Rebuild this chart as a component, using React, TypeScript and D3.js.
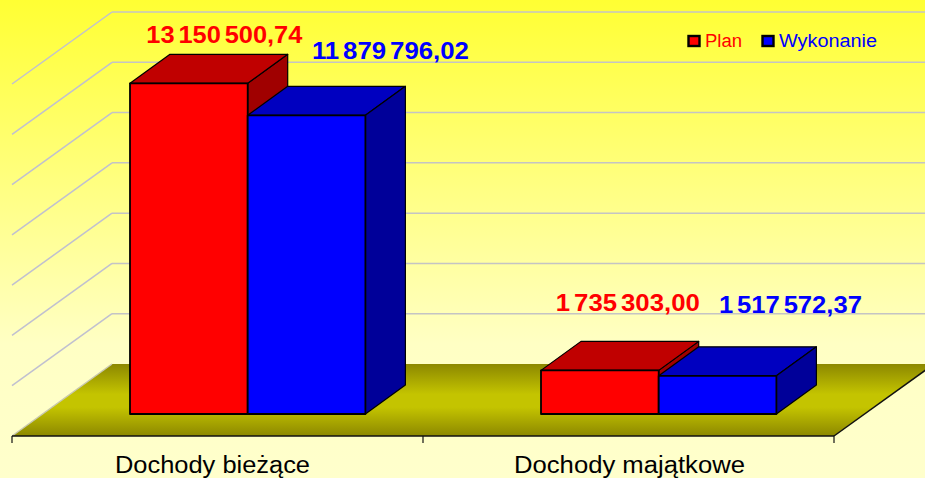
import React from "react";
import * as d3 from "d3";

const categories = ["Dochody bieżące", "Dochody majątkowe"];
const seriesNames = ["Plan", "Wykonanie"];
const planValues = [13150500.74, 1735303.0];
const executionValues = [11879796.02, 1517572.37];
const planLabels = ["13 150 500,74", "1 735 303,00"];
const executionLabels = ["11 879 796,02", "1 517 572,37"];
const gridValues = [2000000, 4000000, 6000000, 8000000, 10000000, 12000000, 14000000];

const W = 925, H = 478;
const FONT = "'Liberation Sans', Arial, sans-serif";
const floorFront = 436, floorBack = 364;
const depthX = 100, depthY = 72;
const barBase = 414, barDX = 40, barDY = 29;

const x0 = d3.scaleBand<string>().domain(categories).range([12, 834]);
const y = d3.scaleLinear().domain([0, 14000000]).range([0, 352]);
const barWidth = 117.7;
const groupInset = 118;

const poly = (pts: [number, number][]) => d3.line()(pts)! + "Z";

type Bar = { x: number; w: number; h: number };

const palette = [
  { front: "#FF0000", top: "#C00000", side: "#A00000" },
  { front: "#0000FF", top: "#0000C0", side: "#000099" },
];

const labelOffsets = [
  [{ dx: 35.5, y: 43 }, { dx: 25, y: 59 }],
  [{ dx: 28, y: 311 }, { dx: 14, y: 313 }],
];

function topFace(b: Bar) {
  const t = barBase - b.h;
  return poly([[b.x, t], [b.x + b.w, t], [b.x + b.w + barDX, t - barDY], [b.x + barDX, t - barDY]]);
}
function sideFace(b: Bar) {
  const t = barBase - b.h;
  return poly([[b.x + b.w, t], [b.x + b.w + barDX, t - barDY], [b.x + b.w + barDX, barBase - barDY], [b.x + b.w, barBase]]);
}

export default function App() {
  const groups = categories.map((c, i) => {
    const gx = x0(c)! + groupInset;
    return {
      c,
      red: { x: gx, w: barWidth, h: y(planValues[i]) },
      blue: { x: gx + barWidth, w: barWidth, h: y(executionValues[i]) },
    };
  });
  return (
    <svg width={W} height={H} viewBox={`0 0 ${W} ${H}`} style={{ position: "absolute", left: 0, top: 0, display: "block" }} fontFamily={FONT}>
      <defs>
        <linearGradient id="bg" x1="0" y1="0" x2="0" y2="1">
          <stop offset="0" stopColor="#FFFF33" />
          <stop offset="0.72" stopColor="#FFFFC4" />
          <stop offset="1" stopColor="#FFFFCC" />
        </linearGradient>
        <linearGradient id="floor" x1="0" y1="0" x2="0" y2="1">
          <stop offset="0" stopColor="#8C8800" />
          <stop offset="0.42" stopColor="#C4C400" />
          <stop offset="0.6" stopColor="#C4C400" />
          <stop offset="1" stopColor="#8C8800" />
        </linearGradient>
      </defs>
      <rect width={W} height={H} fill="url(#bg)" />

      {gridValues.map((v) => {
        const yy = floorBack - y(v);
        return (
          <g key={v} fill="none" stroke="#C4C4C4" strokeWidth={1.5}>
            <line x1={12} y1={yy + depthY} x2={12 + depthX} y2={yy} stroke="#C0C0D0" />
            <line x1={12 + depthX} y1={yy} x2={W} y2={yy} />
          </g>
        );
      })}

      <path d={poly([[12, floorFront], [834, floorFront], [834 + depthX, floorBack], [12 + depthX, floorBack]])} fill="url(#floor)" />
      <line x1={12} y1={floorFront} x2={12 + depthX} y2={floorBack} stroke="#C8C8B0" strokeWidth={1.5} />
      <line x1={834} y1={floorFront} x2={834 + depthX} y2={floorBack} stroke="#111" strokeWidth={1.5} />
      <line x1={12} y1={floorFront} x2={834} y2={floorFront} stroke="#111" strokeWidth={1.5} />
      {[12, x0(categories[1])!, 834].map((t) => (
        <line key={t} x1={t} y1={floorFront} x2={t} y2={floorFront + 7} stroke="#111" strokeWidth={1.2} />
      ))}

      {groups.map((g) => (
        <g key={g.c} stroke="#000" strokeWidth={1.2} strokeLinejoin="round">
          <path d={sideFace(g.red)} fill={palette[0].side} />
          <path d={topFace(g.blue)} fill={palette[1].top} />
          <path d={sideFace(g.blue)} fill={palette[1].side} />
          <path d={topFace(g.red)} fill={palette[0].top} />
          <rect x={g.red.x} y={barBase - g.red.h} width={g.red.w} height={g.red.h} fill={palette[0].front} strokeWidth={1.8} />
          <rect x={g.blue.x} y={barBase - g.blue.h} width={g.blue.w} height={g.blue.h} fill={palette[1].front} strokeWidth={1.8} />
        </g>
      ))}

      {groups.map((g, i) => (
        <g key={g.c + "-labels"} fontSize={24} fontWeight={700} textAnchor="middle" wordSpacing={-3}>
          <text x={g.red.x + g.red.w / 2 + labelOffsets[i][0].dx} y={labelOffsets[i][0].y} fill="#FF0000" textLength={i === 0 ? 156 : 144} lengthAdjust="spacingAndGlyphs">{planLabels[i]}</text>
          <text x={g.blue.x + g.blue.w + labelOffsets[i][1].dx} y={labelOffsets[i][1].y} fill="#0000FF" textLength={i === 0 ? 157 : 143} lengthAdjust="spacingAndGlyphs">{executionLabels[i]}</text>
        </g>
      ))}

      {categories.map((c, i) => (
        <text key={c} x={x0(c)! + x0.bandwidth() / 2 + (i === 0 ? -5 : 1)} y={473} fontSize={23} fill="#000" textAnchor="middle" textLength={i === 0 ? 195 : 231} lengthAdjust="spacingAndGlyphs">{c}</text>
      ))}

      <g fontSize={18}>
        <rect x={688.5} y={36} width={11} height={10} fill={palette[0].front} stroke="#000" strokeWidth={2.4} />
        <text x={705} y={47} fill={palette[0].front} textLength={37} lengthAdjust="spacingAndGlyphs">{seriesNames[0]}</text>
        <rect x={762.5} y={36} width={11} height={10} fill={palette[1].front} stroke="#000" strokeWidth={2.4} />
        <text x={779} y={47} fill={palette[1].front} textLength={98} lengthAdjust="spacingAndGlyphs">{seriesNames[1]}</text>
      </g>
    </svg>
  );
}
